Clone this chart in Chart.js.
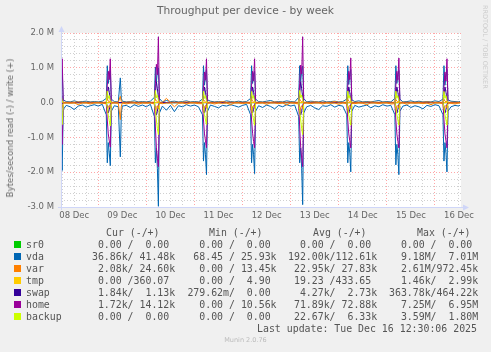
<!DOCTYPE html>
<html>
<head>
<meta charset="utf-8">
<script src="https://cdn.jsdelivr.net/npm/chart.js@4.4.1/dist/chart.umd.min.js"></script>
<style>
  html, body { margin: 0; padding: 0; background: #f0f0f0; }
  #wrap { position: relative; width: 491px; height: 352px; overflow: hidden; font-family: 'DejaVu Sans', sans-serif; color: #666; }
  canvas { position: absolute; left: 0; top: 0; }
  .txt { position: absolute; white-space: pre; }
  .mono { font-family: 'DejaVu Sans Mono', monospace; font-size: 9.9px; line-height: 12px; color: #555; }
  .box { position: absolute; width: 7px; height: 7px; }
</style>
</head>
<body>
<div id="wrap">
  <canvas id="chart" width="491" height="352"></canvas>
  <div class="txt" style="left:0;width:491px;top:3.6px;line-height:13px;text-align:center;font-size:10.7px;">Throughput per device - by week</div>
  <div class="txt" style="left:9.5px;top:127.5px;font-size:8.6px;line-height:10px;transform:translate(-50%,-50%) rotate(-90deg);">Bytes/second read (-) / write (+)</div>
  <div class="txt" style="left:481px;top:5px;font-size:6.5px;writing-mode:vertical-rl;color:#cccccc;">RRDTOOL / TOBI OETIKER</div>
  <div id="legend"></div>
  <div class="txt mono" style="right:14px;top:323.2px;">Last update: Tue Dec 16 12:30:06 2025</div>
  <div class="txt" style="left:0;width:491px;top:336px;line-height:9px;text-align:center;font-size:6.5px;color:#bbbbbb;">Munin 2.0.76</div>
</div>
<script>
// hours counted from 08 Dec 00:00
const dayLabels = ['08 Dec', '09 Dec', '10 Dec', '11 Dec', '12 Dec', '13 Dec', '14 Dec', '15 Dec', '16 Dec'];
const labelHours = [12, 36, 60, 84, 108, 132, 156, 180, 204];
const yLabelValues = [2, 1, 0, -1, -2, -3];
const yLabelTexts = ['2.0 M', '1.0 M', '0.0', '-1.0 M', '-2.0 M', '-3.0 M'];

const devices = ['sr0', 'vda', 'var', 'tmp', 'swap', 'home', 'backup'];
const colors = ['#00CC00', '#0066B3', '#FF8000', '#FFCC00', '#330099', '#990099', '#CCFF00'];

// quiet periods (MB/s, read negative)
const baseHours = [
  8, 10, 12, 14, 16, 18, 20, 22, 24, 26,
  32, 34, 35, 35.5, 36, 38, 40, 42, 44, 46, 48, 50,
  56, 58, 60, 62, 64, 66, 68, 70, 72, 74,
  80, 82, 84, 86, 88, 90, 92, 94, 96, 98,
  104, 106, 108, 110, 112, 114, 116, 118, 120, 122,
  128, 130, 132, 134, 136, 138, 140, 142, 144, 146,
  152, 154, 156, 158, 160, 162, 164, 166, 168, 170,
  176, 178, 180, 182, 184, 186, 188, 190, 192, 194,
  200, 202, 204, 204.5
];
const vdaReadBase = [
  -0.08, -0.12, -0.20, -0.10, -0.07, -0.13, -0.09, -0.06, -0.10, -0.05,
  -0.09, -0.12, -1.56, -0.30, -0.10, -0.08, -0.14, -0.06, -0.11, -0.07, -0.12, -0.05,
  -0.10, -0.22, -0.08, -0.26, -0.09, -0.12, -0.06, -0.10, -0.07, -0.12,
  -0.07, -0.11, -0.15, -0.08, -0.10, -0.06, -0.09, -0.13, -0.08, -0.05,
  -0.09, -0.14, -0.07, -0.11, -0.18, -0.08, -0.12, -0.06, -0.10, -0.07,
  -0.12, -0.08, -0.15, -0.20, -0.09, -0.11, -0.06, -0.13, -0.08, -0.10,
  -0.08, -0.13, -0.10, -0.07, -0.15, -0.09, -0.12, -0.06, -0.10, -0.08,
  -0.10, -0.07, -0.14, -0.09, -0.12, -0.18, -0.08, -0.11, -0.06, -0.09,
  -0.12, -0.08, -0.10, -0.07
];
const vdaWriteBase = [
  0.03, 0.02, 0.05, 0.02, 0.03, 0.04, 0.02, 0.03, 0.02, 0.04,
  0.03, 0.02, 0.71, 0.10, 0.04, 0.02, 0.03, 0.05, 0.02, 0.03, 0.02, 0.04,
  0.02, 0.06, 0.03, 0.04, 0.02, 0.03, 0.05, 0.02, 0.03, 0.02,
  0.04, 0.02, 0.03, 0.02, 0.05, 0.03, 0.02, 0.04, 0.02, 0.03,
  0.03, 0.02, 0.04, 0.06, 0.02, 0.03, 0.02, 0.05, 0.03, 0.02,
  0.02, 0.04, 0.03, 0.02, 0.05, 0.02, 0.03, 0.04, 0.02, 0.03,
  0.03, 0.05, 0.02, 0.03, 0.02, 0.04, 0.06, 0.02, 0.03, 0.02,
  0.02, 0.03, 0.05, 0.02, 0.04, 0.02, 0.03, 0.02, 0.05, 0.03,
  0.04, 0.03, 0.02, 0.04
];
const varReadBase = [
  -0.01, -0.02, -0.01, -0.06, -0.01, -0.01, -0.04, -0.01, -0.01, -0.02,
  -0.01, -0.02, -0.49, -0.10, -0.01, -0.04, -0.01, -0.01, -0.05, -0.01, -0.02, -0.01,
  -0.03, -0.01, -0.01, -0.12, -0.02, -0.01, -0.04, -0.01, -0.01, -0.03,
  -0.01, -0.04, -0.01, -0.02, -0.01, -0.06, -0.01, -0.01, -0.03, -0.01,
  -0.02, -0.01, -0.05, -0.01, -0.01, -0.03, -0.01, -0.07, -0.01, -0.02,
  -0.01, -0.03, -0.01, -0.01, -0.04, -0.01, -0.02, -0.01, -0.05, -0.01,
  -0.03, -0.01, -0.02, -0.06, -0.01, -0.01, -0.03, -0.01, -0.01, -0.04,
  -0.01, -0.05, -0.01, -0.02, -0.01, -0.03, -0.01, -0.06, -0.01, -0.01,
  -0.02, -0.04, -0.01, -0.01
];
const varWriteBase = [
  0.01, 0.01, 0.01, 0.02, 0.01, 0.01, 0.01, 0.01, 0.01, 0.01,
  0.01, 0.01, 0.18, 0.03, 0.01, 0.01, 0.02, 0.01, 0.01, 0.01, 0.01, 0.01,
  0.01, 0.12, 0.01, 0.01, 0.01, 0.01, 0.02, 0.01, 0.01, 0.01,
  0.01, 0.01, 0.01, 0.03, 0.01, 0.01, 0.01, 0.01, 0.01, 0.01,
  0.01, 0.01, 0.01, 0.01, 0.02, 0.01, 0.01, 0.01, 0.01, 0.01,
  0.01, 0.01, 0.02, 0.01, 0.01, 0.01, 0.01, 0.03, 0.01, 0.01,
  0.01, 0.01, 0.01, 0.01, 0.02, 0.01, 0.01, 0.01, 0.01, 0.01,
  0.01, 0.01, 0.01, 0.01, 0.01, 0.01, 0.02, 0.01, 0.01, 0.01,
  0.01, 0.01, 0.01, 0.01
];

// nightly backup bursts, samples at start + 0, 0.5, 1, 1.5, 2, 2.5 h
const spikeStarts = [4, 28, 52, 76, 100, 124, 148, 172, 196];
const spikeOffsets = [0, 0.5, 1, 1.5, 2, 2.5];
const vdaWriteSpikes = [
  [0.10, 1.00, 0.50, 0.80, 0.95, 0.08], [0.12, 1.06, 0.55, 0.78, 0.92, 0.10], [0.15, 1.02, 0.60, 0.90, 1.00, 0.12],
  [0.10, 1.06, 0.50, 0.80, 0.95, 0.08], [0.12, 1.06, 0.55, 0.82, 0.90, 0.10], [0.15, 1.06, 0.60, 0.92, 1.05, 0.12],
  [0.10, 1.06, 0.52, 0.80, 0.95, 0.08], [0.12, 1.06, 0.55, 0.80, 0.92, 0.10], [0.10, 1.06, 0.50, 0.78, 0.95, 0.08]
];
const vdaReadSpikes = [
  [-0.30, -1.60, -1.10, -1.40, -1.95, -0.20], [-0.35, -1.73, -1.15, -1.45, -1.81, -0.25], [-0.40, -1.73, -1.30, -1.90, -2.98, -0.30],
  [-0.35, -1.68, -1.15, -1.50, -2.07, -0.25], [-0.35, -1.73, -1.20, -1.50, -2.04, -0.25], [-0.40, -1.73, -1.30, -1.90, -2.93, -0.30],
  [-0.35, -1.73, -1.15, -1.45, -1.99, -0.25], [-0.35, -1.79, -1.20, -1.50, -2.07, -0.25], [-0.35, -1.68, -1.15, -1.45, -1.99, -0.25]
];
const varWriteSpikes = [
  [0.01, 0.10, 0.04, 0.02, 0.04, 0.01], [0.01, 0.12, 0.04, 0.02, 0.05, 0.01], [0.01, 0.10, 0.05, 0.02, 0.04, 0.01],
  [0.01, 0.09, 0.04, 0.02, 0.04, 0.01], [0.01, 0.11, 0.04, 0.02, 0.04, 0.01], [0.01, 0.10, 0.05, 0.02, 0.04, 0.01],
  [0.01, 0.10, 0.04, 0.02, 0.04, 0.01], [0.01, 0.09, 0.04, 0.02, 0.04, 0.01], [0.01, 0.10, 0.04, 0.02, 0.04, 0.01]
];
const varReadSpikes = [
  [-0.03, -0.28, -0.12, -0.08, -0.15, -0.02], [-0.03, -0.30, -0.12, -0.08, -0.15, -0.02], [-0.04, -0.32, -0.14, -0.09, -0.18, -0.02],
  [-0.03, -0.28, -0.12, -0.08, -0.15, -0.02], [-0.03, -0.30, -0.12, -0.08, -0.15, -0.02], [-0.04, -0.32, -0.14, -0.09, -0.18, -0.02],
  [-0.03, -0.29, -0.12, -0.08, -0.15, -0.02], [-0.03, -0.30, -0.12, -0.08, -0.15, -0.02], [-0.03, -0.28, -0.12, -0.08, -0.15, -0.02]
];
const swapWriteSpikes = [
  [0, 0.20, 0.45, 0.30, 0.10, 0], [0, 0.20, 0.45, 0.30, 0.10, 0], [0, 0.25, 0.60, 0.40, 0.15, 0],
  [0, 0.20, 0.45, 0.30, 0.10, 0], [0, 0.20, 0.45, 0.30, 0.10, 0], [0, 0.25, 0.60, 0.40, 0.15, 0],
  [0, 0.20, 0.45, 0.30, 0.10, 0], [0, 0.20, 0.45, 0.30, 0.10, 0], [0, 0.20, 0.45, 0.30, 0.10, 0]
];
const swapReadSpikes = [
  [0, -0.10, -0.30, -0.20, -0.05, 0], [0, -0.10, -0.30, -0.20, -0.05, 0], [0, -0.15, -0.36, -0.25, -0.08, 0],
  [0, -0.10, -0.30, -0.20, -0.05, 0], [0, -0.10, -0.30, -0.20, -0.05, 0], [0, -0.15, -0.36, -0.25, -0.08, 0],
  [0, -0.10, -0.30, -0.20, -0.05, 0], [0, -0.10, -0.30, -0.20, -0.05, 0], [0, -0.10, -0.30, -0.20, -0.05, 0]
];
const homeWriteSpikes = [
  [0, 0.45, 0.88, 0.62, 1.26, 0.04], [0, 0.50, 0.90, 0.66, 1.26, 0.05], [0, 0.55, 1.10, 0.80, 1.89, 0.06],
  [0, 0.48, 0.88, 0.64, 1.26, 0.04], [0, 0.50, 0.90, 0.62, 1.26, 0.05], [0, 0.55, 1.08, 0.82, 1.89, 0.06],
  [0, 0.48, 0.90, 0.66, 1.28, 0.04], [0, 0.50, 0.90, 0.64, 1.28, 0.05], [0, 0.46, 0.88, 0.62, 1.26, 0.04]
];
const homeReadSpikes = [
  [0, -0.45, -0.85, -1.05, -1.20, -0.08], [0, -0.50, -0.90, -1.10, -1.28, -0.10], [0, -0.70, -1.30, -1.60, -1.84, -0.15],
  [0, -0.50, -0.90, -1.10, -1.30, -0.10], [0, -0.50, -0.88, -1.12, -1.30, -0.10], [0, -0.70, -1.28, -1.60, -1.84, -0.15],
  [0, -0.50, -0.90, -1.10, -1.30, -0.10], [0, -0.50, -0.90, -1.12, -1.30, -0.10], [0, -0.48, -0.90, -1.10, -1.30, -0.10]
];
const backupWriteSpikes = [
  [0, 0.30, 0.12, 0.20, 0.05, 0], [0, 0.33, 0.12, 0.20, 0.05, 0], [0, 0.35, 0.14, 0.22, 0.06, 0],
  [0, 0.33, 0.12, 0.20, 0.05, 0], [0, 0.32, 0.12, 0.20, 0.05, 0], [0, 0.35, 0.14, 0.22, 0.06, 0],
  [0, 0.33, 0.12, 0.20, 0.05, 0], [0, 0.33, 0.12, 0.20, 0.05, 0], [0, 0.32, 0.12, 0.20, 0.05, 0]
];
const backupReadSpikes = [
  [0, -0.15, -0.35, -0.50, -0.63, -0.05], [0, -0.15, -0.36, -0.52, -0.67, -0.05], [0, -0.20, -0.50, -0.75, -0.92, -0.08],
  [0, -0.15, -0.35, -0.50, -0.63, -0.05], [0, -0.15, -0.36, -0.50, -0.65, -0.05], [0, -0.20, -0.50, -0.75, -0.92, -0.08],
  [0, -0.15, -0.35, -0.50, -0.65, -0.05], [0, -0.15, -0.35, -0.50, -0.65, -0.05], [0, -0.15, -0.35, -0.50, -0.65, -0.05]
];
// idle stretches (flat at zero)
const flatHours = [4, 204.5];
const sr0Read = [0, 0], sr0Write = [0, 0];
const tmpRead = [0, 0], tmpWrite = [0, 0];
const swapIdle = [0, 0];

// legend values (read/write) as printed by munin
const legendCur = ['  0.00 /  0.00 ', ' 36.86k/ 41.48k', '  2.08k/ 24.60k', '  0.00 /360.07 ', '  1.84k/  1.13k', '  1.72k/ 14.12k', '  0.00 /  0.00 '];
const legendMin = ['  0.00 /  0.00 ', ' 68.45 / 25.93k', '  0.00 / 13.45k', '  0.00 /  4.90 ', '279.62m/  0.00 ', '  0.00 / 10.56k', '  0.00 /  0.00 '];
const legendAvg = ['  0.00 /  0.00 ', '192.00k/112.61k', ' 22.95k/ 27.83k', ' 19.23 /433.65 ', '  4.27k/  2.73k', ' 71.89k/ 72.88k', ' 22.67k/  6.33k'];
const legendMax = ['  0.00 /  0.00 ', '  9.18M/  7.01M', '  2.61M/972.45k', '  1.46k/  2.99k', '363.78k/464.22k', '  7.25M/  6.95M', '  3.59M/  1.80M'];


function spikePoints(spikes) {
    const pts = [];
    spikes.forEach((row, d) => {
        row.forEach((v, k) => pts.push({ x: spikeStarts[d] + spikeOffsets[k], y: v }));
    });
    return pts;
}

function flatSeries(values) {
    return flatHours.map((h, i) => ({ x: h, y: values[i] }));
}

function busySeries(base, spikes) {
    const pts = baseHours.map((h, i) => ({ x: h, y: base[i] })).concat(spikePoints(spikes));
    return pts.sort((a, b) => a.x - b.x);
}

function steadySeries(spikes, idleValues) {
    return spikePoints(spikes).concat(flatSeries(idleValues)).sort((a, b) => a.x - b.x);
}

function burstSeries(spikes) {
    // only drawn while the backup runs
    const pts = [];
    spikes.forEach((row, d) => {
        row.forEach((v, k) => pts.push({ x: spikeStarts[d] + spikeOffsets[k], y: v }));
        pts.push({ x: spikeStarts[d] + 12, y: null });
    });
    return pts;
}

const seriesData = [
    [flatSeries(sr0Read), flatSeries(sr0Write)],
    [busySeries(vdaReadBase, vdaReadSpikes), busySeries(vdaWriteBase, vdaWriteSpikes)],
    [busySeries(varReadBase, varReadSpikes), busySeries(varWriteBase, varWriteSpikes)],
    [flatSeries(tmpRead), flatSeries(tmpWrite)],
    [steadySeries(swapReadSpikes, swapIdle), steadySeries(swapWriteSpikes, swapIdle)],
    [burstSeries(homeReadSpikes), burstSeries(homeWriteSpikes)],
    [burstSeries(backupReadSpikes), burstSeries(backupWriteSpikes)]
];

// stacking: lower number is painted later (on top)
const drawOrder = { sr0: 200, vda: 98, swap: 96.5, var: 96, tmp: 199, home: 90, backup: 88 };

const datasets = [];
seriesData.forEach((pair, i) => {
    pair.forEach((data, j) => {
        datasets.push({
            label: devices[i] + (j ? ' write' : ' read'),
            data: data,
            borderColor: colors[i],
            backgroundColor: colors[i],
            borderWidth: 1,
            pointRadius: 0,
            tension: 0,
            spanGaps: false,
            order: drawOrder[devices[i]] - j * 0.1
        });
    });
});

const gridHours = [];
for (let h = 6; h <= 204; h += 6) gridHours.push(h);

const majorGrid = 'rgba(255, 60, 60, 0.45)';
const minorGrid = 'rgba(170, 170, 170, 0.55)';
const axisColor = '#CFD6F8';
const tickFont = { family: 'DejaVu Sans', size: 8.5 };

const muninFrame = {
    id: 'muninFrame',
    beforeDraw(chart) {
        const { ctx, chartArea: a } = chart;
        ctx.save();
        ctx.fillStyle = '#ffffff';
        ctx.fillRect(a.left, a.top, a.right - a.left, a.bottom - a.top);
        ctx.restore();
    },
    afterDraw(chart) {
        const { ctx, chartArea: a } = chart;
        const y = Math.round(a.bottom) + 0.5;
        const x = Math.round(a.left) + 0.5;
        ctx.save();
        ctx.strokeStyle = axisColor;
        ctx.fillStyle = axisColor;
        ctx.lineWidth = 1;
        ctx.beginPath();
        ctx.moveTo(a.left - 3, y);
        ctx.lineTo(a.right + 4, y);
        ctx.moveTo(x, a.bottom + 3);
        ctx.lineTo(x, a.top - 3);
        ctx.stroke();
        ctx.beginPath();
        ctx.moveTo(a.right + 2, y - 3);
        ctx.lineTo(a.right + 8, y);
        ctx.lineTo(a.right + 2, y + 3);
        ctx.closePath();
        ctx.fill();
        ctx.beginPath();
        ctx.moveTo(x - 3, a.top - 1);
        ctx.lineTo(x, a.top - 7);
        ctx.lineTo(x + 3, a.top - 1);
        ctx.closePath();
        ctx.fill();
        ctx.restore();
    }
};

function renderChart() {
    const ctx = document.getElementById('chart').getContext('2d');
    new Chart(ctx, {
        type: 'line',
        data: { datasets: datasets },
        options: {
            responsive: false,
            animation: false,
            devicePixelRatio: 1,
            layout: { padding: { top: 33, right: 30, bottom: 0, left: 0 } },
            plugins: {
                legend: { display: false },
                tooltip: { enabled: false }
            },
            scales: {
                x: {
                    type: 'linear',
                    min: 5.4,
                    max: 205.0,
                    afterFit: (scale) => { scale.height = 145; },
                    afterBuildTicks: (scale) => { scale.ticks = gridHours.map(v => ({ value: v })); },
                    grid: {
                        color: (c) => (c.tick && c.tick.value % 24 === 0) ? majorGrid : minorGrid,
                        lineWidth: 1,
                        drawTicks: false
                    },
                    border: { display: false, dash: [1, 2] },
                    ticks: {
                        autoSkip: false,
                        maxRotation: 0,
                        minRotation: 0,
                        padding: 4,
                        color: '#666',
                        font: tickFont,
                        callback: (value) => {
                            const i = labelHours.indexOf(value);
                            return i < 0 ? '' : dayLabels[i];
                        }
                    }
                },
                y: {
                    min: -3,
                    max: 2,
                    afterFit: (scale) => { scale.width = 61; },
                    grid: {
                        color: (c) => (c.tick && yLabelValues.indexOf(c.tick.value) >= 0) ? majorGrid : minorGrid,
                        lineWidth: 1,
                        drawTicks: false
                    },
                    border: { display: false, dash: [1, 2] },
                    ticks: {
                        stepSize: 0.2,
                        padding: 7,
                        color: '#666',
                        font: tickFont,
                        autoSkip: false,
                        callback: (value) => {
                            const i = yLabelValues.indexOf(value);
                            return i < 0 ? '' : yLabelTexts[i];
                        }
                    }
                }
            }
        },
        plugins: [muninFrame]
    });
}

function renderLegend() {
    const box = document.getElementById('legend');
    const heads = [['Cur (-/+)', 106], ['Min (-/+)', 209], ['Avg (-/+)', 313], ['Max (-/+)', 417]];
    heads.forEach(([t, x]) => {
        const d = document.createElement('div');
        d.className = 'txt mono';
        d.style.left = x + 'px';
        d.style.top = '226.7px';
        d.textContent = t;
        box.appendChild(d);
    });
    const cols = [[legendCur, 86], [legendMin, 187.4], [legendAvg, 288], [legendMax, 389]];
    devices.forEach((name, i) => {
        const top = 238.7 + i * 12;
        const sq = document.createElement('div');
        sq.className = 'box';
        sq.style.left = '13.5px';
        sq.style.top = (top + 2.5) + 'px';
        sq.style.background = colors[i];
        box.appendChild(sq);
        const n = document.createElement('div');
        n.className = 'txt mono';
        n.style.left = '26px';
        n.style.top = top + 'px';
        n.textContent = name;
        box.appendChild(n);
        cols.forEach(([arr, x]) => {
            const c = document.createElement('div');
            c.className = 'txt mono';
            c.style.left = x + 'px';
            c.style.top = top + 'px';
            c.textContent = arr[i];
            box.appendChild(c);
        });
    });
}

renderLegend();
renderChart();
</script>
</body>
</html>
